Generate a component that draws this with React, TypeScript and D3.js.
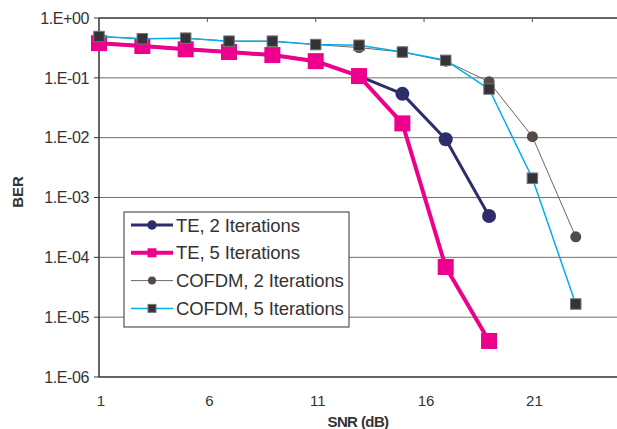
import * as d3 from 'd3'

const W = 617
const H = 429
const PLOT = { left: 99, top: 18, bottom: 377 }

const SNR_TE = [1, 3, 5, 7, 9, 11, 13, 15, 17, 19]
const SNR_COFDM = [1, 3, 5, 7, 9, 11, 13, 15, 17, 19, 21, 23]

const TE_2 = [0.38, 0.34, 0.3, 0.27, 0.24, 0.19, 0.107, 0.054, 0.0094, 0.00049]
const TE_5 = [0.38, 0.34, 0.3, 0.27, 0.24, 0.19, 0.107, 0.0173, 6.9e-5, 4.0e-6]
const COFDM_2 = [0.49, 0.45, 0.46, 0.41, 0.41, 0.36, 0.32, 0.27, 0.19, 0.086, 0.0104, 2.2e-4]
const COFDM_5 = [0.49, 0.45, 0.46, 0.41, 0.41, 0.36, 0.35, 0.27, 0.196, 0.065, 0.0021, 1.66e-5]

const X_TICKS = [1, 6, 11, 16, 21]
const Y_TICKS = [1, 1e-1, 1e-2, 1e-3, 1e-4, 1e-5, 1e-6]
const Y_LABELS = ['1.E+00', '1.E-01', '1.E-02', '1.E-03', '1.E-04', '1.E-05', '1.E-06']

const FONT = '"Liberation Sans", Arial, sans-serif'

const SERIES = [
  { name: 'TE, 2 Iterations', xs: SNR_TE, ys: TE_2, line: '#2e2d6b', width: 3, marker: 'circle', size: 14, fill: '#2e2d6b', stroke: 'none' },
  { name: 'TE, 5 Iterations', xs: SNR_TE, ys: TE_5, line: '#ec008c', width: 4, marker: 'square', size: 16, fill: '#ec008c', stroke: 'none' },
  { name: 'COFDM, 2 Iterations', xs: SNR_COFDM, ys: COFDM_2, line: '#6e6662', width: 1, marker: 'circle', size: 11, fill: '#544b47', stroke: 'none' },
  { name: 'COFDM, 5 Iterations', xs: SNR_COFDM, ys: COFDM_5, line: '#00aeef', width: 1.5, marker: 'square', size: 10.5, fill: '#333338', stroke: '#777' },
]

function Marker({ type, x, y, size, fill, stroke }: any) {
  if (type === 'circle') return <circle cx={x} cy={y} r={size / 2} fill={fill} stroke={stroke} />
  return <rect x={x - size / 2} y={y - size / 2} width={size} height={size} fill={fill} stroke={stroke} />
}

export default function App() {
  const x = d3.scaleLinear().domain([1, 26]).range([PLOT.left, PLOT.left + 25 * 21.67])
  const y = d3.scaleLog().domain([1e-6, 1]).range([PLOT.bottom, PLOT.top])

  const line = d3.line<[number, number]>().x(d => x(d[0])).y(d => y(d[1]))

  const legend = { x: 124, y: 212, w: 225, h: 115 }

  return (
    <svg width={W} height={H} style={{ position: 'absolute', left: 0, top: 0, background: '#fff' }} fontFamily={FONT}>
      <rect width={W} height={H} fill="#fff" />

      {/* grid lines */}
      {Y_TICKS.slice(1, -1).map(t => (
        <line key={t} x1={PLOT.left} x2={W} y1={y(t)} y2={y(t)} stroke="#6f6f6f" strokeWidth={1} />
      ))}
      <line x1={PLOT.left} x2={W} y1={PLOT.top} y2={PLOT.top} stroke="#333" strokeWidth={1.5} />
      <line x1={PLOT.left} x2={W} y1={PLOT.bottom} y2={PLOT.bottom} stroke="#333" strokeWidth={1.5} />
      <line x1={PLOT.left} x2={PLOT.left} y1={PLOT.top} y2={PLOT.bottom} stroke="#333" strokeWidth={1.5} />

      {/* y ticks */}
      {Y_TICKS.map((t, i) => (
        <g key={t}>
          <line x1={PLOT.left - 5} x2={PLOT.left} y1={y(t)} y2={y(t)} stroke="#333" />
          <text x={89} y={y(t)} dy="0.36em" textAnchor="end" fontSize={16} letterSpacing={-0.4} fill="#333">
            {Y_LABELS[i]}
          </text>
        </g>
      ))}

      {/* x ticks */}
      {X_TICKS.map(t => (
        <g key={t}>
          {t > 1 && <line x1={x(t)} x2={x(t)} y1={PLOT.top} y2={PLOT.top + 4} stroke="#555" />}
          <text x={x(t) + 2} y={405.5} textAnchor="middle" fontSize={15} fill="#333">{t}</text>
        </g>
      ))}

      <text x={358} y={427} textAnchor="middle" fontSize={15} fontWeight="bold" letterSpacing={-0.6} fill="#333">SNR (dB)</text>
      <text transform="translate(23, 192) rotate(-90)" textAnchor="middle" fontSize={15} fontWeight="bold" fill="#333">BER</text>

      {/* series */}
      {SERIES.map(s => {
        const pts = s.xs.map((v, i) => [v, s.ys[i]] as [number, number])
        return (
          <g key={s.name}>
            <path d={line(pts) ?? ''} fill="none" stroke={s.line} strokeWidth={s.width} strokeLinejoin="round" />
            {pts.map((p, i) => (
              <Marker key={i} type={s.marker} x={x(p[0])} y={y(p[1])} size={s.size} fill={s.fill} stroke={s.stroke} />
            ))}
          </g>
        )
      })}

      {/* legend */}
      <rect x={legend.x} y={legend.y} width={legend.w} height={legend.h} fill="#fff" stroke="#333" strokeWidth={1} />
      {SERIES.map((s, i) => {
        const cy = 225 + i * 27.8
        return (
          <g key={s.name}>
            <line x1={131} x2={173} y1={cy} y2={cy} stroke={s.line} strokeWidth={s.width === 1 ? 1 : s.width} />
            <Marker type={s.marker} x={152} y={cy} size={s.marker === 'circle' ? (i === 0 ? 9.5 : 8) : (i === 1 ? 9 : 8)} fill={s.fill} stroke={s.stroke} />
            <text x={176} y={cy} dy="0.36em" fontSize={18.5} letterSpacing={-0.1} fill="#333">{s.name}</text>
          </g>
        )
      })}
    </svg>
  )
}
